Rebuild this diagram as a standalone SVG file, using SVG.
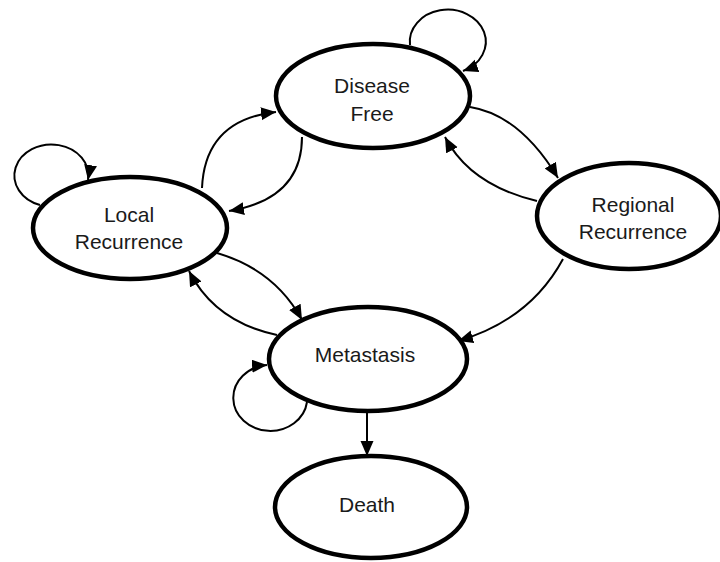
<svg xmlns="http://www.w3.org/2000/svg" width="720" height="562" viewBox="0 0 720 562">
<style>
.node ellipse{fill:#fff;stroke:#000;stroke-width:4.5}
.node text{font-family:"Liberation Sans",Arial,sans-serif;font-size:21px;fill:#1a1a1a;text-anchor:middle}
.edges path{fill:none;stroke:#000;stroke-width:2;marker-end:url(#arr)}
</style>
<defs>
<marker id="arr" markerUnits="userSpaceOnUse" markerWidth="17" markerHeight="15" refX="15" refY="6.5" orient="auto">
<path d="M0,0 L15,6.5 L0,13 z" fill="#000"/>
</marker>
</defs>
<rect width="720" height="562" fill="#fff"/>
<g class="edges">
<path d="M202,188 Q205,120 276,112"/>
<path d="M302,137 Q302,199 229,211"/>
<path d="M470,107 Q520,115 558,178"/>
<path d="M537,201 Q470,185 445,137"/>
<path d="M563,259 Q530,320 458,341"/>
<path d="M217,253 Q275,270 302,320"/>
<path d="M277,335 Q215,322 189,271"/>
<path d="M367,412 L367,456"/>
<path d="M410,45 A38,32 0 1 1 463,71"/>
<path d="M40,205 A37,31 0 1 1 88,180"/>
<path d="M307,402 A37,33 0 1 1 267,365"/>
</g>
<g id="disease-free" class="node">
<ellipse cx="373" cy="96" rx="97" ry="52"/>
<text x="372" y="93">Disease</text>
<text x="372" y="121">Free</text>
</g>
<g id="local-recurrence" class="node">
<ellipse cx="130" cy="228" rx="97" ry="51"/>
<text x="129" y="222">Local</text>
<text x="129" y="249">Recurrence</text>
</g>
<g id="regional-recurrence" class="node">
<ellipse cx="629" cy="216" rx="92" ry="53"/>
<text x="633" y="212">Regional</text>
<text x="633" y="239">Recurrence</text>
</g>
<g id="metastasis" class="node">
<ellipse cx="368" cy="359" rx="99" ry="52"/>
<text x="365" y="362">Metastasis</text>
</g>
<g id="death" class="node">
<ellipse cx="371" cy="507" rx="96" ry="51"/>
<text x="367" y="512">Death</text>
</g>
</svg>
